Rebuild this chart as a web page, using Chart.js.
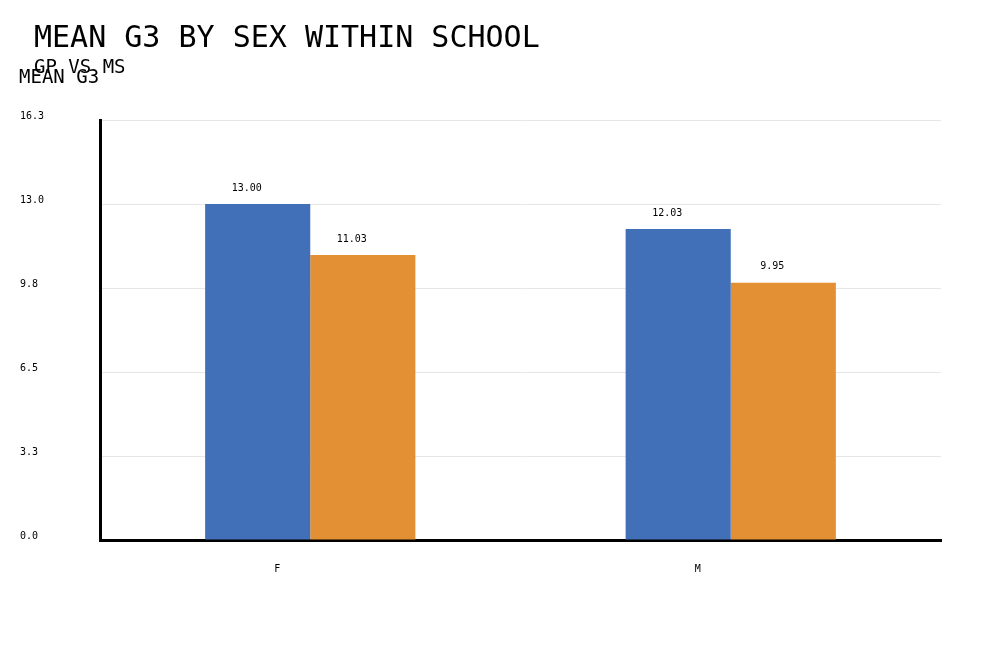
<!DOCTYPE html>
<html>
<head>
<meta charset="utf-8">
<script src="https://cdn.jsdelivr.net/npm/chart.js@4/dist/chart.umd.min.js"></script>
<style>
  html, body { margin: 0; padding: 0; background: #ffffff; }
  #wrap { width: 1000px; height: 650px; }
</style>
</head>
<body>
<div id="wrap"><canvas id="c" width="1000" height="650"></canvas></div>
<script>
const categories = ['F', 'M'];
const seriesNames = ['GP', 'MS'];
const gpValues = [13.00, 12.03];
const msValues = [11.03, 9.95];
const yTickValues = [0, 3.25, 6.5, 9.75, 13, 16.25];
const titleText = 'MEAN G3 BY SEX WITHIN SCHOOL';
const subtitleText = 'GP VS MS';
const yAxisTitle = 'MEAN G3';

const FONT = "'DejaVu Sans Mono', monospace";

const textPlugin = {
  id: 'texts',
  afterDraw(chart) {
    const ctx = chart.ctx;
    ctx.save();
    ctx.fillStyle = '#000';
    ctx.textAlign = 'left';
    ctx.textBaseline = 'alphabetic';
    ctx.font = '30px ' + FONT;
    ctx.fillText(titleText, 34, 47);
    ctx.font = '19px ' + FONT;
    ctx.fillText(subtitleText, 34, 73);
    ctx.font = '19px ' + FONT;
    ctx.fillText(yAxisTitle, 19, 83);
    // value labels
    ctx.font = '10px ' + FONT;
    ctx.textAlign = 'center';
    ctx.textBaseline = 'middle';
    chart.data.datasets.forEach((ds, di) => {
      const meta = chart.getDatasetMeta(di);
      meta.data.forEach((bar, i) => {
        ctx.fillText(Number(ds.data[i]).toFixed(2), bar.x - 11, bar.y - 16);
      });
    });
    ctx.restore();
  }
};

new Chart(document.getElementById('c'), {
  type: 'bar',
  data: {
    labels: categories,
    datasets: [
      { label: seriesNames[0], data: gpValues, backgroundColor: '#4170b8', borderWidth: 0 },
      { label: seriesNames[1], data: msValues, backgroundColor: '#e38f33', borderWidth: 0 }
    ]
  },
  options: {
    responsive: false,
    animation: false,
    devicePixelRatio: 1,
    barPercentage: 1,
    categoryPercentage: 0.5,
    layout: { padding: { top: 120, right: 59, left: 20, bottom: 0 } },
    plugins: {
      legend: { display: false },
      title: { display: false },
      tooltip: { enabled: false }
    },
    font: { family: FONT },
    scales: {
      x: {
        grid: { display: false, drawTicks: false },
        border: { display: true, color: '#000', width: 3 },
        ticks: { color: '#000', font: { family: FONT, size: 10 }, labelOffset: -33, padding: 23, maxRotation: 0 },
        afterFit(scale) { scale.height = 110; }
      },
      y: {
        min: 0,
        max: 16.25,
        afterBuildTicks(scale) { scale.ticks = yTickValues.map(v => ({ value: v })); },
        grid: { color: '#e6e6e6', lineWidth: 1, drawTicks: false },
        border: { display: true, color: '#000', width: 3 },
        ticks: {
          color: '#000',
          font: { family: FONT, size: 10 },
          crossAlign: 'far',
          labelOffset: -4,
          callback: (v) => Number(v).toFixed(1)
        },
        afterFit(scale) { scale.width = 80; }
      }
    }
  },
  plugins: [textPlugin]
});
</script>
</body>
</html>
